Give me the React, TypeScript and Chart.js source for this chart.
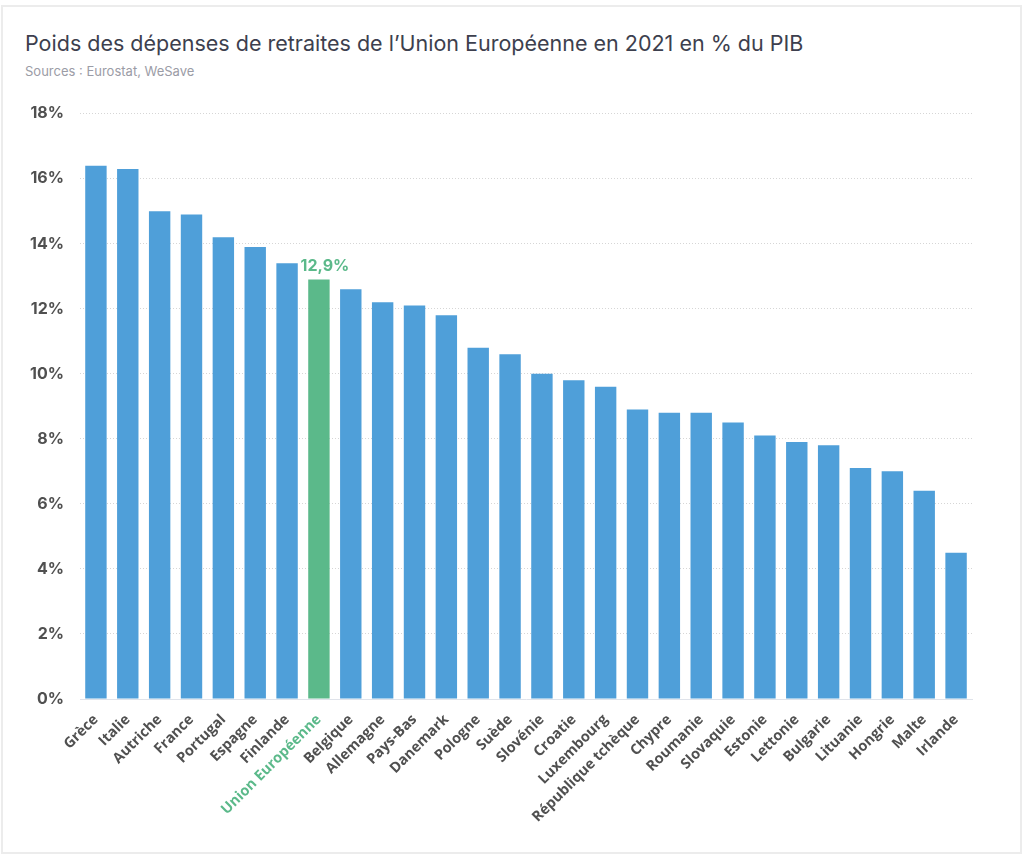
import React, { useEffect, useRef } from "react";
import { Chart, registerables } from "chart.js";

Chart.register(...registerables);

const categories = [
  "Grèce", "Italie", "Autriche", "France", "Portugal", "Espagne", "Finlande",
  "Union Européenne", "Belgique", "Allemagne", "Pays-Bas", "Danemark", "Pologne",
  "Suède", "Slovénie", "Croatie", "Luxembourg", "République tchèque", "Chypre",
  "Roumanie", "Slovaquie", "Estonie", "Lettonie", "Bulgarie", "Lituanie",
  "Hongrie", "Malte", "Irlande",
];
const values = [
  16.4, 16.3, 15.0, 14.9, 14.2, 13.9, 13.4,
  12.9, 12.6, 12.2, 12.1, 11.8, 10.8,
  10.6, 10.0, 9.8, 9.6, 8.9, 8.8,
  8.8, 8.5, 8.1, 7.9, 7.8, 7.1,
  7.0, 6.4, 4.5,
];
const highlightCategory = "Union Européenne";
const highlightLabel = "12,9%";
const yMin = 0;
const yMax = 18;
const yStep = 2;

const BLUE = "#4f9fd9";
const GREEN = "#5bb98a";
const LABEL_GRAY = "#505050";

const highlightPlugin = {
  id: "highlightLabel",
  afterDatasetsDraw(chart: any) {
    const idx = categories.indexOf(highlightCategory);
    const meta = chart.getDatasetMeta(0);
    const bar = meta.data[idx];
    if (!bar) return;
    const ctx = chart.ctx;
    ctx.save();
    ctx.font = "700 16px Inter";
    ctx.fillStyle = GREEN;
    ctx.textAlign = "center";
    ctx.textBaseline = "alphabetic";
    ctx.fillText(highlightLabel, bar.x + 6, bar.y - 8);
    ctx.restore();
  },
};

export default function App() {
  const canvasRef = useRef<HTMLCanvasElement | null>(null);

  useEffect(() => {
    if (!canvasRef.current) return;
    const hi = categories.indexOf(highlightCategory);
    const chart = new Chart(canvasRef.current, {
      type: "bar",
      data: {
        labels: categories,
        datasets: [
          {
            data: values,
            backgroundColor: categories.map((c) => (c === highlightCategory ? GREEN : BLUE)),
            borderWidth: 0,
            barPercentage: 0.84,
            categoryPercentage: 0.8,
          },
        ],
      },
      options: {
        animation: false,
        responsive: false,
        maintainAspectRatio: false,
        devicePixelRatio: 1,
        layout: { padding: { top: 18, right: 52, left: 0, bottom: 0 } },
        plugins: {
          legend: { display: false },
          tooltip: { enabled: false },
          title: { display: false },
        },
        scales: {
          x: {
            grid: { display: false, drawTicks: false },
            border: { display: true, color: "#dfe3ea", width: 1 },
            ticks: {
              autoSkip: false,
              maxRotation: 45,
              minRotation: 45,
              padding: 12,
              font: { family: "'Open Sans'", weight: "bold", size: 14.5 },
              color: (ctx: any) => (ctx.index === hi ? GREEN : LABEL_GRAY),
            },
            afterFit: (scale: any) => {
              scale.height = 131;
            },
          },
          y: {
            min: yMin,
            max: yMax,
            grid: {
              drawTicks: false,
              color: (ctx: any) => (ctx.tick && ctx.tick.value === 0 ? "rgba(0,0,0,0)" : "#d6d6d6"),
              lineWidth: 1,
            },
            border: { display: false, dash: [1, 2] },
            ticks: {
              stepSize: yStep,
              padding: 16,
              font: { family: "Inter", weight: "bold", size: 16 },
              color: LABEL_GRAY,
              callback: (v: any) => `${v}%`,
            },
            afterFit: (scale: any) => {
              scale.width = 80;
            },
          },
        },
      },
      plugins: [highlightPlugin],
    });
    return () => chart.destroy();
  }, []);

  return (
    <div
      style={{
        position: "absolute",
        left: 0,
        top: 0,
        width: 1024,
        height: 854,
        background: "#ffffff",
        overflow: "hidden",
      }}
    >
      <div
        style={{
          position: "absolute",
          left: 1,
          top: 5,
          width: 1017,
          height: 845,
          border: "2px solid #ececec",
          background: "#ffffff",
        }}
      />
      <div
        style={{
          position: "absolute",
          left: 25,
          top: 30,
          fontFamily: "Inter",
          fontSize: 21.5,
          color: "#3d3f4e",
          whiteSpace: "nowrap",
        }}
      >
        Poids des dépenses de retraites de l’Union Européenne en 2021 en % du PIB
      </div>
      <div
        style={{
          position: "absolute",
          left: 25,
          top: 63,
          fontFamily: "Inter",
          fontSize: 13,
          color: "#9b9ca6",
          whiteSpace: "nowrap",
        }}
      >
        Sources : Eurostat, WeSave
      </div>
      <canvas
        ref={canvasRef}
        width={1024}
        height={742}
        style={{ position: "absolute", left: 0, top: 88, width: 1024, height: 742 }}
      />
    </div>
  );
}
